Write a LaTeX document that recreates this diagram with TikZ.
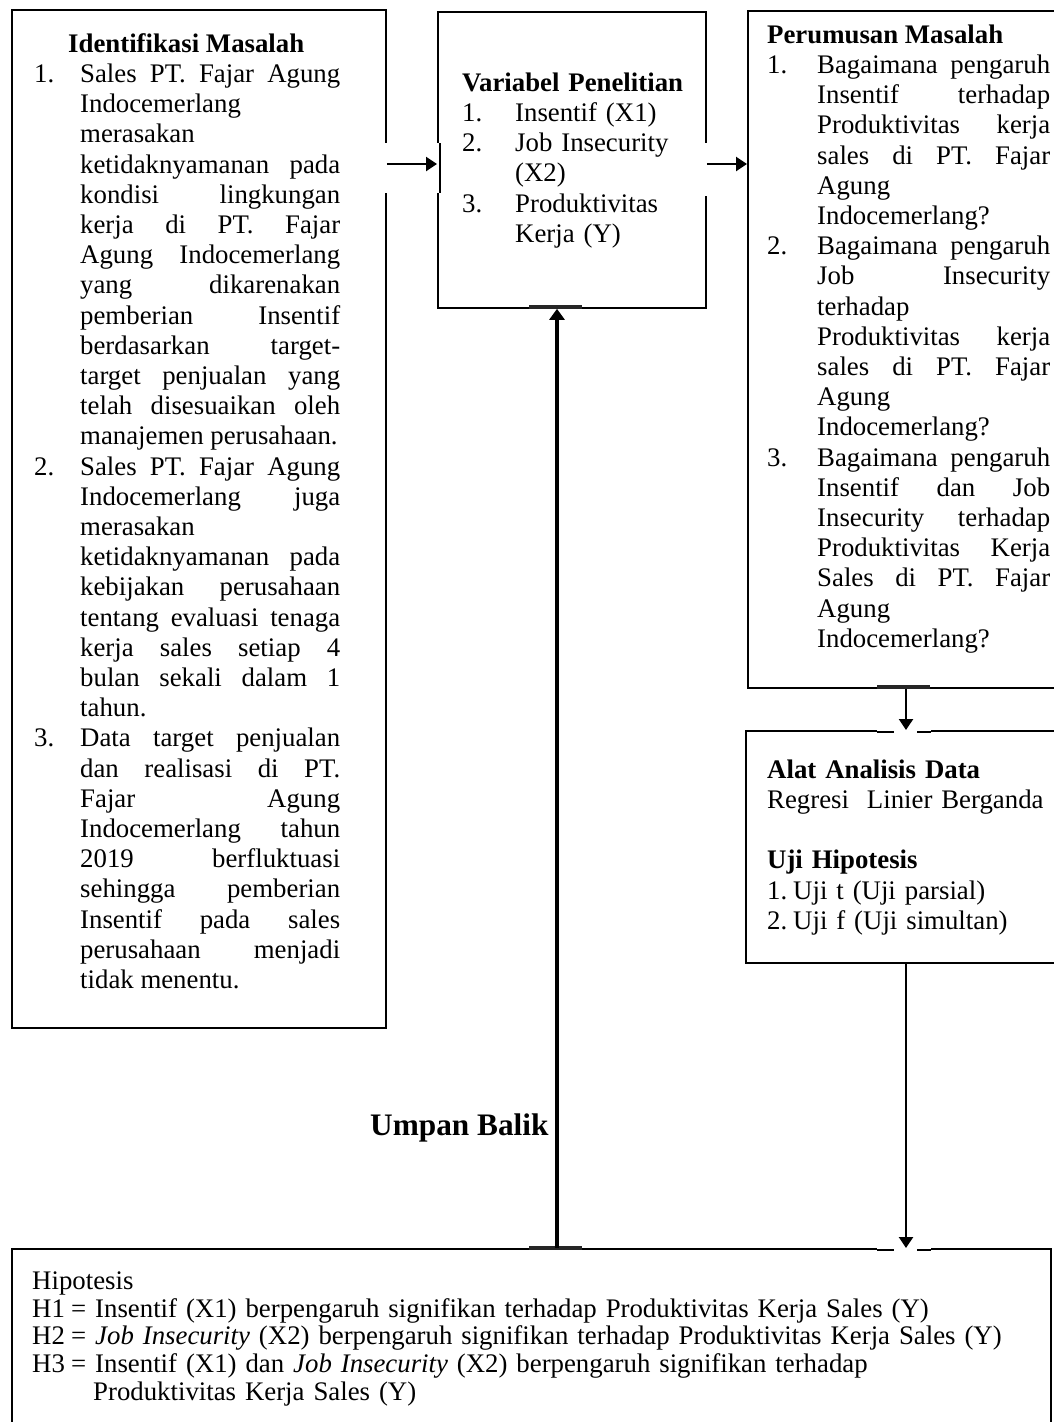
\documentclass[tikz,border=0pt]{standalone}
\usepackage{fontspec}
\setmainfont{Liberation Serif}[Ligatures={NoCommon}]
\usetikzlibrary{arrows.meta}
\newcommand{\fsmain}{\fontsize{26.8}{30.2}\selectfont}
\newcommand{\fssmall}{\fontsize{26.8}{27.8}\selectfont}
\newcommand{\fsbig}{\fontsize{31.3}{34}\selectfont}
\newcommand{\jsetup}{\frenchspacing\spaceskip=\fontdimen2\font plus 1fil\relax\xspaceskip=\spaceskip\parfillskip=0pt plus 1fill\relax\tolerance=10000\hbadness=10000\leftskip=0pt\rightskip=0pt\parindent=0pt\relax}
\newcommand{\rsetup}{\frenchspacing\parindent=0pt\hbadness=10000\relax}
\newcommand{\lb}{\linebreak}
\newcommand{\nl}{\hfil\break}
\newcommand{\itm}[2]{\par\hangindent=#1\hangafter=1\noindent\makebox[#1][l]{#2}\ignorespaces}
\tikzset{
  box/.style={draw, line width=1.8pt, inner sep=0pt, anchor=north west},
  arr/.style={line width=2.4pt, -{Triangle[length=11pt,width=14pt]}},
  fb/.style={line width=3.4pt, -{Triangle[length=11pt,width=15pt]}},
  txt/.style={inner sep=0pt, anchor=north west, font=\fsmain},
  gap/.style={draw=white, line width=4pt},
  seg/.style={line width=1.8pt},
  thick seg/.style={line width=3.4pt, draw=black!85},
}
\begin{document}
\begin{tikzpicture}[x=1pt,y=-1pt]
\useasboundingbox (0,0) rectangle (1054,1422);
% boxes
\node[box, minimum width=374pt, minimum height=1018pt] (L) at (11,9) {};
\node[box, minimum width=268pt, minimum height=296pt] (M) at (437,11) {};
\node[box, minimum width=330pt, minimum height=677pt] (R) at (747,10) {};
\node[box, minimum width=330pt, minimum height=232pt] (A) at (745,730) {};
\node[box, minimum width=1039pt, minimum height=220pt] (B) at (11,1248) {};
% border details where the connectors meet the boxes
\draw[gap] (385,143) -- (385,193);
\draw[gap] (437,143) -- (437,193);
\draw[seg] (440,143) -- (440,193);
\draw[gap] (705,143) -- (705,196);
\draw[thick seg] (529,307) -- (582,307);
\draw[thick seg] (529,1248) -- (582,1248);
\draw[thick seg] (877,687) -- (930,687);
\draw[gap] (877,730) -- (931,730);
\draw[seg] (877,732) -- (894,732) (917,732) -- (931,732);
\draw[gap] (877,1248) -- (931,1248);
\draw[seg] (877,1250) -- (894,1250) (917,1250) -- (931,1250);
% texts
\node[txt, text width=306pt] (Ltxt) at (34,32) {\jsetup
\rule{0pt}{20pt}\hspace*{34pt}\textbf{Identifikasi Masalah}\par
\itm{46pt}{1.}Sales PT. Fajar Agung\lb Indocemerlang\lb merasakan\lb ketidaknyamanan pada\lb kondisi lingkungan\lb kerja di PT. Fajar\lb Agung Indocemerlang\lb yang dikarenakan\lb pemberian Insentif\lb berdasarkan target-\lb target penjualan yang\lb telah disesuaikan oleh\lb manajemen perusahaan.\par
\itm{46pt}{2.}Sales PT. Fajar Agung\lb Indocemerlang juga\lb merasakan\lb ketidaknyamanan pada\lb kebijakan perusahaan\lb tentang evaluasi tenaga\lb kerja sales setiap 4\lb bulan sekali dalam 1\lb tahun.\par
\itm{46pt}{3.}Data target penjualan\lb dan realisasi di PT.\lb Fajar Agung\lb Indocemerlang tahun\lb 2019 berfluktuasi\lb sehingga pemberian\lb Insentif pada sales\lb perusahaan menjadi\lb tidak menentu.\par};
\node[txt, text width=240pt] (Mtxt) at (462,71) {\rsetup
\rule{0pt}{20pt}\textbf{Variabel Penelitian}\par
\itm{53pt}{1.}Insentif (X1)\par
\itm{53pt}{2.}Job Insecurity\nl (X2)\par
\itm{53pt}{3.}Produktivitas\nl Kerja (Y)\par};
\node[txt, text width=283pt] (Rtxt) at (767,23) {\jsetup
\rule{0pt}{20pt}\textbf{Perumusan Masalah}\par
\itm{50pt}{1.}Bagaimana pengaruh\lb Insentif terhadap\lb Produktivitas kerja\lb sales di PT. Fajar\lb Agung\lb Indocemerlang?\par
\itm{50pt}{2.}Bagaimana pengaruh\lb Job Insecurity\lb terhadap\lb Produktivitas kerja\lb sales di PT. Fajar\lb Agung\lb Indocemerlang?\par
\itm{50pt}{3.}Bagaimana pengaruh\lb Insentif dan Job\lb Insecurity terhadap\lb Produktivitas Kerja\lb Sales di PT. Fajar\lb Agung\lb Indocemerlang?\par};
\node[txt, text width=280pt] (Atxt) at (767,758) {\rsetup
\rule{0pt}{20pt}\textbf{Alat Analisis Data}\nl
Regresi\ \ Linier Berganda\nl
\mbox{}\nl
\textbf{Uji Hipotesis}\nl
\makebox[26pt][l]{1.}Uji t (Uji parsial)\nl
\makebox[26pt][l]{2.}Uji f (Uji simultan)\par};
\node[txt, font=\fssmall, text width=1010pt] (Btxt) at (32,1271) {\rsetup
\rule{0pt}{18pt}Hipotesis\nl
\makebox[39pt][l]{H1}= Insentif (X1) berpengaruh signifikan terhadap Produktivitas Kerja Sales (Y)\nl
\makebox[39pt][l]{H2}= \textit{Job Insecurity} (X2) berpengaruh signifikan terhadap Produktivitas Kerja Sales (Y)\nl
\makebox[39pt][l]{H3}= Insentif (X1) dan \textit{Job Insecurity} (X2) berpengaruh signifikan terhadap\nl
\hspace*{61pt}Produktivitas Kerja Sales (Y)\par};
\node[inner sep=0pt, anchor=base west, font=\fsbig\bfseries] (UB) at (370,1135) {Umpan Balik};
% connectors
\coordinate (ya) at (0,164);
\coordinate (xa) at (906,0);
\coordinate (xf) at (557,0);
\draw[arr] (L.east |- ya) -- (M.west |- ya);
\draw[arr] (M.east |- ya) -- (R.west |- ya);
\draw[arr] (R.south -| xa) -- (A.north -| xa);
\draw[arr] (A.south -| xa) -- (B.north -| xa);
\draw[fb] (B.north -| xf) -- (M.south -| xf);
\end{tikzpicture}
\end{document}
